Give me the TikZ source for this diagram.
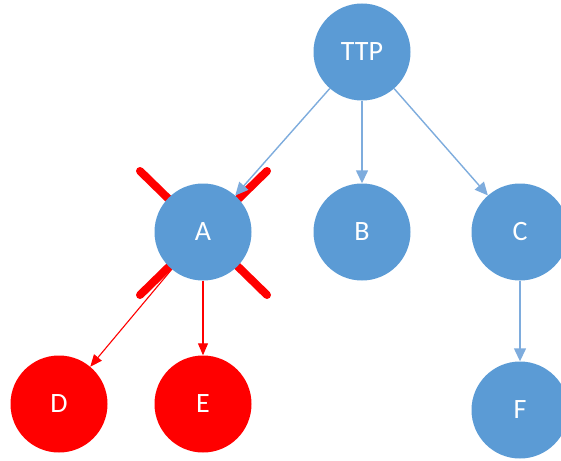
\documentclass[tikz,border=0pt]{standalone}
\usepackage{fontspec}
\setmainfont{Carlito}
\usetikzlibrary{arrows.meta}
\definecolor{nblue}{HTML}{5B9BD5}
\definecolor{ablue}{HTML}{7EACDD}
\definecolor{nred}{HTML}{FF0000}
\begin{document}
\begin{tikzpicture}[x=1pt,y=-1pt,
  nodebase/.style={circle,minimum size=97pt,inner sep=0pt,text=white,font=\fontsize{28}{32}\selectfont},
  bluenode/.style={nodebase,fill=nblue},
  rednode/.style={nodebase,fill=nred},
  bluearrow/.style={draw=ablue,line width=1.4pt,-{Triangle[length=13pt,width=12pt]}},
  redarrow/.style={draw=nred,line width=1.1pt,-{Triangle[length=12pt,width=10pt]}},
  cross/.style={draw=nred,line width=8pt,line cap=round}]
\useasboundingbox (0,0) rectangle (561,460);
% cross behind A
\coordinate (x1) at (140,171);
\coordinate (x2) at (267,295);
\coordinate (x3) at (267,171);
\coordinate (x4) at (140,295);
\draw[cross] (x1) -- (x2);
\draw[cross] (x3) -- (x4);
\node[bluenode] (ttp) at (362,52) {TTP};
\node[bluenode] (a) at (203,232) {A};
\node[bluenode] (b) at (362,232) {B};
\node[bluenode] (c) at (520,232) {C};
\node[rednode] (d) at (59,404) {D};
\node[rednode] (e) at (203,404) {E};
\node[bluenode] (f) at (520,410) {F};
\draw[bluearrow] (ttp) -- (a);
\draw[bluearrow] (ttp) -- (b);
\draw[bluearrow] (ttp) -- (c);
\draw[bluearrow] (c) -- (f);
\draw[redarrow] (a) -- (d);
\draw[redarrow] (a) -- (e);
\end{tikzpicture}
\end{document}
